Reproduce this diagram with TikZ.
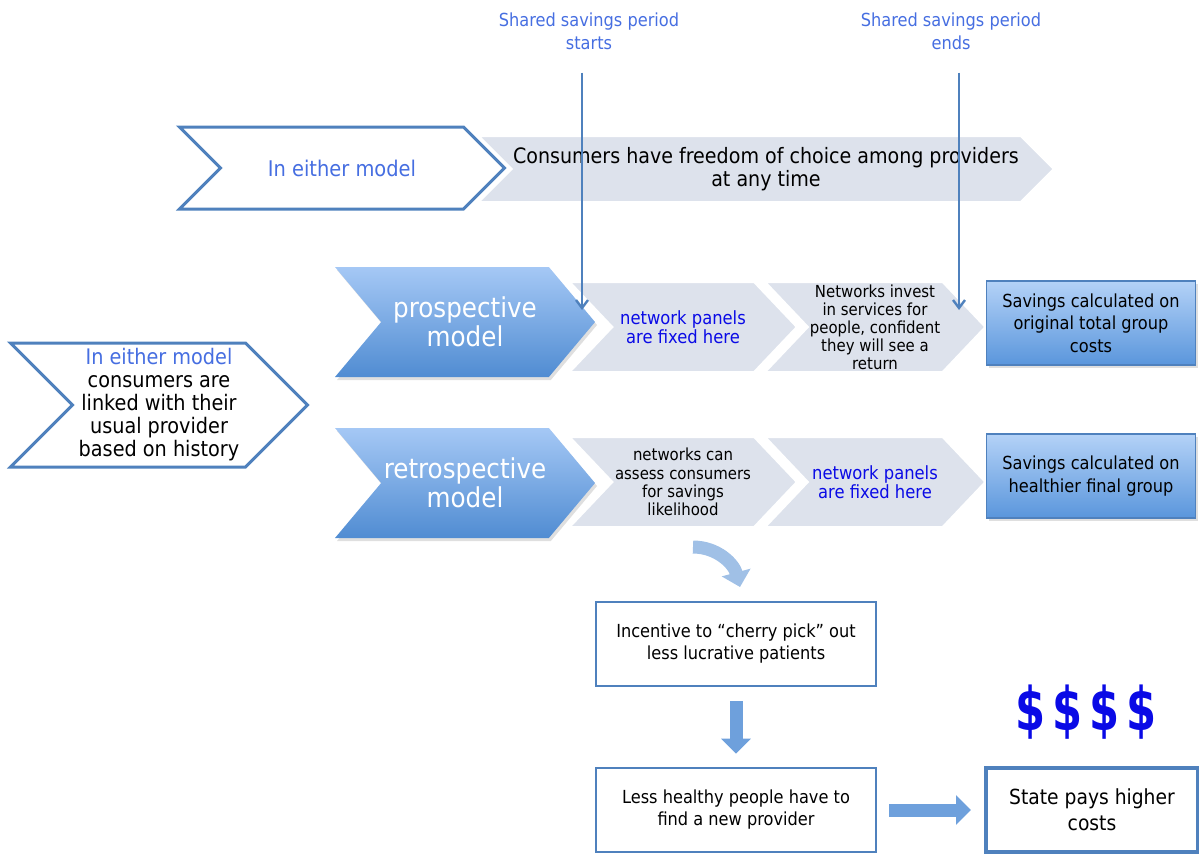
\documentclass[tikz,border=0pt]{standalone}
\usepackage{fontspec}
\setmainfont{DejaVu Sans Condensed}
\usetikzlibrary{shapes.symbols,shadows,arrows.meta,positioning}
\definecolor{accent}{RGB}{79,129,189}
\definecolor{chevgray}{RGB}{221,226,236}
\definecolor{lblblue}{RGB}{70,110,225}
\definecolor{panelblue}{RGB}{10,10,230}
\definecolor{chevtop}{RGB}{165,200,245}
\definecolor{chevbot}{RGB}{80,140,210}
\definecolor{boxtop}{RGB}{180,210,247}
\definecolor{boxbot}{RGB}{90,150,220}
\definecolor{arrowblue}{RGB}{110,160,220}
\definecolor{curveblue}{RGB}{160,192,230}
\newcommand{\dol}{\scalebox{0.8}[1]{\$}}
\tikzset{outchev/.style={signal, signal from=west, signal to=east, draw=accent, line width=1.5pt, fill=white, align=center, inner sep=0pt}}
\tikzset{graychev/.style={signal, signal from=west, signal to=east, draw=white, line width=1.5pt, fill=chevgray, align=center, inner sep=0pt}}
\tikzset{bluechev/.style={signal, signal from=west, signal to=east, top color=chevtop, bottom color=chevbot, draw=none, text=white, align=center, inner sep=0pt, signal pointer angle=100, minimum width=130pt, minimum height=55pt, drop shadow={opacity=0.25, shadow xshift=1pt, shadow yshift=-1.5pt}, font=\fontsize{13.7}{14.5}\selectfont}}
\tikzset{savebox/.style={rectangle, top color=boxtop, bottom color=boxbot, draw=accent, line width=0.6pt, align=center, inner sep=0pt, minimum width=104.5pt, minimum height=42pt, drop shadow={opacity=0.25, shadow xshift=1pt, shadow yshift=-1.5pt}, font=\fontsize{9}{11.25}\selectfont}}
\tikzset{plainbox/.style={rectangle, draw=accent, line width=1.3pt, fill=white, align=center, inner sep=0pt, minimum width=140pt, minimum height=42pt, font=\fontsize{9}{11}\selectfont}}
\tikzset{blockarr/.style={draw=arrowblue, line width=6.5pt, -{Triangle[length=7.5pt,width=14.5pt]}}}
\tikzset{vline/.style={draw=accent, line width=1.2pt, -{Straight Barb[length=4pt,width=6pt]}}}

\begin{document}
\begin{tikzpicture}[x=0.5pt,y=-0.5pt]
  \useasboundingbox (0,0) rectangle (1199,853);

  % top row
  \node[graychev, signal pointer angle=90, minimum width=288.5pt, minimum height=33.5pt, font=\fontsize{10.6}{11.5}\selectfont](anytime)at(766,169){Consumers have freedom of choice among providers\\at any time};
  \node[outchev, signal pointer angle=90, minimum width=162.5pt, minimum height=41pt, text=lblblue, font=\fontsize{10.8}{11.5}\selectfont](either)at(342,168){In either model};

  \node[align=center, text=lblblue, font=\fontsize{9}{11.5}\selectfont](startlbl)at(589,31){Shared savings period\\starts};
  \node[align=center, text=lblblue, font=\fontsize{9}{11.5}\selectfont](endlbl)at(951,31){Shared savings period\\ends};

  % left chevron
  \node[outchev, signal pointer angle=90, minimum width=148.5pt, minimum height=62pt, font=\fontsize{10.7}{11.5}\selectfont](linked)at(159,405){\textcolor{lblblue}{In either model}\\consumers are\\linked with their\\usual provider\\based on history};

  % prospective row
  \node[graychev, signal pointer angle=93, minimum width=114.5pt, minimum height=45.5pt, text=panelblue, font=\fontsize{9.1}{9.5}\selectfont](pro1)at(683,327){network panels\\are fixed here};
  \node[graychev, signal pointer angle=93, minimum width=111pt, minimum height=45.5pt, font=\fontsize{8.3}{9}\selectfont](pro2)at(875,327){Networks invest\\in services for\\people, confident\\they will see a\\return};
  \node[bluechev](pro)at(465,322){prospective\\model};
  \node[savebox](prosave)at(1091,323){Savings calculated on\\original total group\\costs};

  % retrospective row
  \node[graychev, signal pointer angle=93, minimum width=114.5pt, minimum height=45.5pt, font=\fontsize{8.3}{9.2}\selectfont](ret1)at(683,482){networks can\\assess consumers\\for savings\\likelihood};
  \node[graychev, signal pointer angle=93, minimum width=111pt, minimum height=45.5pt, text=panelblue, font=\fontsize{9.1}{9.5}\selectfont](ret2)at(875,482){network panels\\are fixed here};
  \node[bluechev](ret)at(465,483){retrospective\\model};
  \node[savebox](retsave)at(1091,476){Savings calculated on\\healthier final group};

  % consequences
  \node[plainbox](incentive)at(736,644){Incentive to ``cherry pick'' out\\less lucrative patients};
  \node[plainbox](healthy)at(736,810){Less healthy people have to\\find a new provider};
  \node[plainbox, minimum width=106pt, line width=2pt, font=\fontsize{10.4}{13}\selectfont](state)at(1092,810){State pays higher\\costs};
  \node[text=panelblue, font=\fontsize{30}{32}\selectfont\bfseries](dollars)at(1086,712){\dol\hspace{3.5pt}\dol\hspace{3.5pt}\dol\hspace{3.5pt}\dol};

  % period markers
  \coordinate (startend) at (582,310);
  \coordinate (endend) at (959,310);
  \draw[vline]([yshift=-8pt]startlbl.south -| startend)--(startend);
  \draw[vline]([yshift=-8pt]endlbl.south -| endend)--(endend);

  % arrows
  \coordinate (cstart) at (693,547);
  \coordinate (cend) at (740,587);
  \draw[blockarr, draw=curveblue](cstart) to[out=0,in=105](cend);
  \draw[blockarr, shorten <=7pt, shorten >=6.5pt](incentive)--(healthy);
  \draw[blockarr, shorten <=6pt, shorten >=6.5pt](healthy)--(state);
\end{tikzpicture}
\end{document}
